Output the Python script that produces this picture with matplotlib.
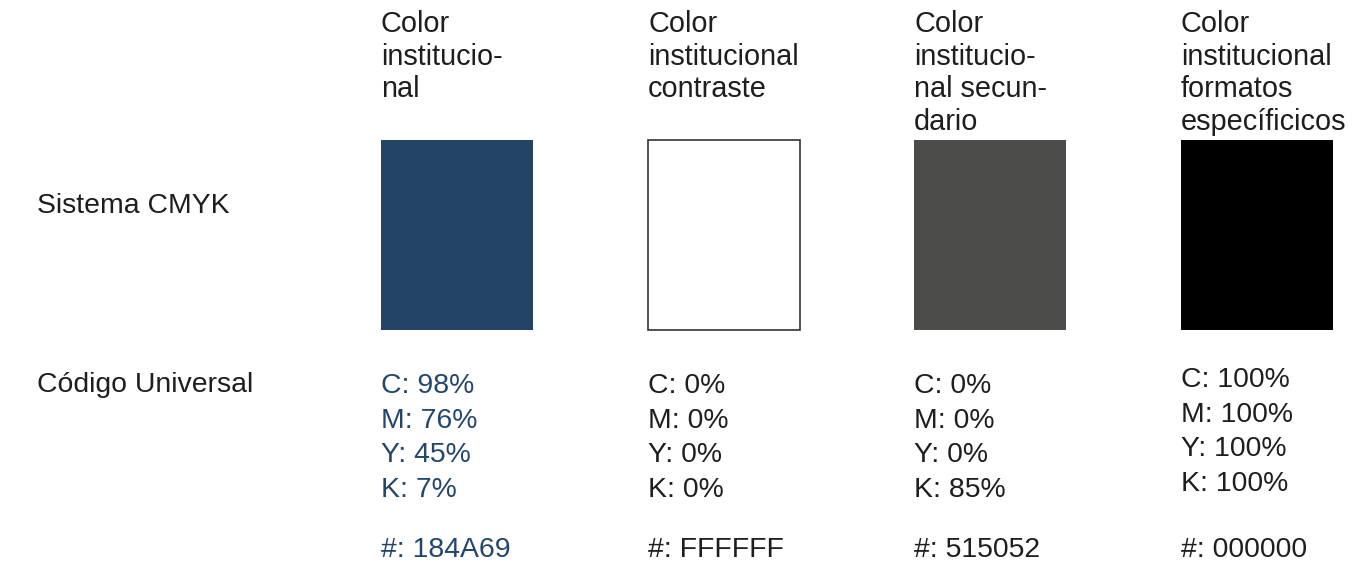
import matplotlib.pyplot as plt

# column data
headers = [
    ['Color', 'institucio-', 'nal'],
    ['Color', 'institucional', 'contraste'],
    ['Color', 'institucio-', 'nal secun-', 'dario'],
    ['Color', 'institucional', 'formatos', 'específicicos'],
]
swatch_colors = ['#234467', '#ffffff', '#4c4c4a', '#000000']
text_colors = ['#23466b', '#1e1e1e', '#1e1e1e', '#1e1e1e']
cyan = [98, 0, 0, 100]
magenta = [76, 0, 0, 100]
yellow = [45, 0, 0, 100]
black = [7, 0, 85, 100]
hex_codes = ['184A69', 'FFFFFF', '515052', '000000']
row_labels = ['Sistema CMYK', 'Código Universal']

plt.rcParams['font.family'] = ['Liberation Sans', 'DejaVu Sans']

W, H = 1352, 569
fig = plt.figure(figsize=(W / 100, H / 100), dpi=100)
ax = fig.add_axes([0, 0, 1, 1])
ax.set_xlim(0, W)
ax.set_ylim(H, 0)
ax.axis('off')

col_x = [381, 648, 914, 1181]
sw_w = 152
sw_top, sw_bot = 140, 330
fs = 20.4

# swatches
ax.bar(col_x, [sw_bot - sw_top] * 4, width=sw_w, bottom=sw_top, align='edge',
       color=swatch_colors, edgecolor=['none', '#333333', 'none', 'none'],
       linewidth=1.2)

# headers
for x, lines in zip(col_x, headers):
    for i, line in enumerate(lines):
        ax.text(x, 32 + i * 32.5, line, fontsize=fs + 0.4, color='#1e1e1e',
                ha='left', va='baseline')

# row labels
ax.text(37, 213, row_labels[0], fontsize=fs, color='#1e1e1e', va='baseline')
ax.text(37, 392, row_labels[1], fontsize=fs, color='#1e1e1e', va='baseline')

# cmyk values
starts = [393, 393, 393, 387]
for k, x in enumerate(col_x):
    vals = [('C', cyan[k]), ('M', magenta[k]), ('Y', yellow[k]), ('K', black[k])]
    for i, (lab, v) in enumerate(vals):
        ax.text(x, starts[k] + i * 34.5, f'{lab}: {v}%', fontsize=fs,
                color=text_colors[k], va='baseline')
    ax.text(x, 557, f'#: {hex_codes[k]}', fontsize=fs, color=text_colors[k],
            va='baseline')

plt.savefig('out.png', dpi=100)
